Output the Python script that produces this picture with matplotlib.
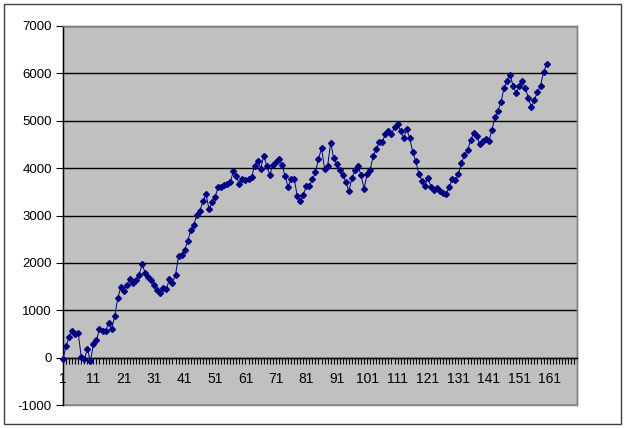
import matplotlib
matplotlib.use("Agg")
import matplotlib.pyplot as plt
from matplotlib.patches import Rectangle

plt.rcParams['font.family'] = ['Liberation Sans', 'DejaVu Sans']

values = [
    -30, 250, 430, 560, 490, 510, 20, -35, 175, -70,
    280, 370, 600, 570, 570, 725, 600, 880, 1250, 1490,
    1415, 1535, 1660, 1570, 1640, 1740, 1970, 1795, 1710, 1640,
    1530, 1430, 1360, 1480, 1445, 1660, 1585, 1750, 2150, 2165,
    2280, 2456, 2688, 2807, 3010, 3100, 3298, 3453, 3137, 3277,
    3390, 3600, 3600, 3642, 3663, 3698, 3937, 3825, 3656, 3775,
    3754, 3775, 3810, 4050, 4160, 3990, 4260, 4050, 3860, 4060,
    4130, 4200, 4070, 3840, 3600, 3775, 3775, 3420, 3300, 3440,
    3615, 3615, 3770, 3915, 4190, 4420, 3990, 4035, 4540, 4210,
    4085, 3965, 3860, 3705, 3515, 3790, 3965, 4055, 3845, 3565,
    3875, 3965, 4265, 4400, 4545, 4560, 4715, 4790, 4720, 4860,
    4925, 4790, 4630, 4820, 4630, 4335, 4140, 3880, 3735, 3630,
    3800, 3600, 3545, 3580, 3525, 3475, 3463, 3603, 3778, 3743,
    3870, 4115, 4270, 4374, 4584, 4740, 4675, 4514, 4570, 4612,
    4570, 4795, 5075, 5215, 5390, 5685, 5845, 5972, 5734, 5587,
    5727, 5832, 5692, 5481, 5285, 5446, 5600, 5741, 6021, 6196,
]
categories = list(range(1, len(values) + 1))
n_categories = 170
x_labels = [str(c) for c in range(1, 162, 10)]
y_ticks = list(range(-1000, 7001, 1000))

fig = plt.figure(figsize=(6.25, 4.28), dpi=100)
ax = fig.add_axes([63/625, 1-405/428, (577-63)/625, (405-26)/428])
ax.set_facecolor('#C0C0C0')

ax.plot(categories, values, color='#000080', lw=0.7, marker='D',
        markersize=3.0, markerfacecolor='#000080', markeredgecolor='#000080',
        zorder=5, clip_on=False)

ax.set_xlim(1, n_categories)
ax.set_ylim(-1000, 7000)
ax.set_yticks(y_ticks)
ax.set_yticklabels([str(v) for v in y_ticks], fontsize=9.5)

# category ticks
ax.set_xticks(range(1, n_categories + 1))
lbls = []
for c in range(1, n_categories + 1):
    lbls.append(str(c) if str(c) in x_labels else '')
ax.set_xticklabels(lbls, fontsize=9.5)
ax.tick_params(axis='x', direction='out', length=4, width=0.8, pad=6, color='black')
ax.tick_params(axis='y', direction='out', length=5, width=0.8, pad=3, color='black')

ax.spines['bottom'].set_position(('data', 0))
ax.spines['bottom'].set_color('black')
ax.spines['bottom'].set_linewidth(1.0)
ax.spines['left'].set_color('black')
ax.spines['left'].set_linewidth(1.0)
for s in ['top', 'right']:
    ax.spines[s].set_color('#808080')
    ax.spines[s].set_linewidth(1.0)

ax.yaxis.grid(True, color='black', lw=1.0)
ax.set_axisbelow(True)
# bottom border of plot area
ax.add_patch(Rectangle((0, 0), 1, 1, transform=ax.transAxes, fill=False,
                       edgecolor='#808080', lw=1.0, zorder=1, clip_on=False))

# outer chart border
fig.add_artist(Rectangle((4/625, 4/428), 617/625, 420/428, transform=fig.transFigure,
                         fill=False, edgecolor='#404040', lw=1.0))

fig.savefig('out.png', dpi=100)
